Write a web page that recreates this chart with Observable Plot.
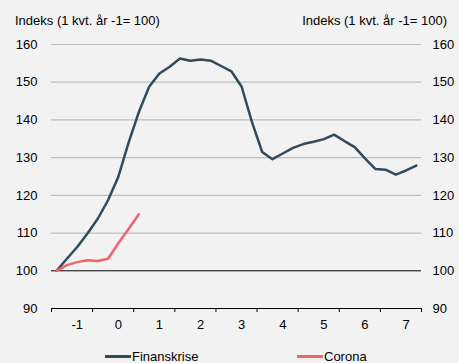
<!DOCTYPE html>
<html>
<head>
<meta charset="utf-8">
<script src="https://cdn.jsdelivr.net/npm/d3@7"></script>
<script src="https://cdn.jsdelivr.net/npm/@observablehq/plot@0.6"></script>
<style>
  html, body { margin: 0; padding: 0; background: #f2f2f2; }
  #wrap { position: relative; width: 459px; height: 363px; overflow: hidden; background: #f2f2f2;
          font-family: "Liberation Sans", Arial, sans-serif; font-size: 13px; color: #000; }
  .hdr { position: absolute; top: 13px; white-space: nowrap; }
  .leg { position: absolute; top: 349px; white-space: nowrap; }
  .sw { position: absolute; height: 3px; width: 26px; top: 355px; }
  #chart { position: absolute; left: 0; top: 0; }
</style>
</head>
<body>
<div id="wrap">
  <div class="hdr" style="left:15px">Indeks (1 kvt. år -1= 100)</div>
  <div class="hdr" style="right:12px">Indeks (1 kvt. år -1= 100)</div>
  <div id="chart"></div>
  <div class="sw" style="left:105px;background:#2f4b5c"></div>
  <div class="leg" style="left:132px">Finanskrise</div>
  <div class="sw" style="left:297px;background:#f0646a"></div>
  <div class="leg" style="left:324px">Corona</div>
</div>
<script>
// Quarterly index values (1. kvt. år -1 = 100)
const finanskrise = [100, 103.2, 106.3, 109.9, 113.8, 118.7, 124.9, 134.0, 142.1, 148.8,
  152.3, 154.1, 156.3, 155.7, 156.0, 155.7, 154.3, 152.9, 148.8, 139.5,
  131.5, 129.6, 131.1, 132.6, 133.6, 134.2, 134.9, 136.1, 134.4, 132.8,
  129.8, 127.0, 126.8, 125.5, 126.6, 127.9];
const corona = [100, 101.5, 102.3, 102.8, 102.6, 103.2, 107.3, 111.1, 115.0];
const xLabels = ["-1", "0", "1", "2", "3", "4", "5", "6", "7"];
const yTicks = [90, 100, 110, 120, 130, 140, 150, 160];

const finData = finanskrise.map((v, i) => ({q: i, v}));
const corData = corona.map((v, i) => ({q: i, v}));
const yearBounds = d3.range(xLabels.length + 1).map(k => k * 4 - 0.5);
const labelPos = xLabels.map((_, k) => k * 4 + 2);

const chart = Plot.plot({
  width: 459,
  height: 340,
  marginTop: 44,
  marginBottom: 32,
  marginLeft: 51,
  marginRight: 38,
  style: {background: "transparent", fontFamily: "'Liberation Sans', Arial, sans-serif", fontSize: "13px", color: "#000"},
  x: {domain: [-0.5, finanskrise.length - 0.5]},
  y: {domain: [90, 160]},
  marks: [
    Plot.gridY(yTicks.filter(d => d > 100), {stroke: "#bdbdbd", strokeOpacity: 1, strokeWidth: 1.2}),
    Plot.ruleY([100], {stroke: "#000", strokeWidth: 1}),
    Plot.ruleY([90], {stroke: "#000", strokeWidth: 1}),
    Plot.axisY(yTicks, {anchor: "left", tickSize: 0, tickPadding: 14, label: null}),
    Plot.axisY(yTicks, {anchor: "right", tickSize: 0, tickPadding: 11, label: null}),
    Plot.axisX(yearBounds, {anchor: "bottom", tickSize: 4, tickFormat: () => "", label: null}),
    Plot.axisX(labelPos, {anchor: "bottom", tickSize: 0, tickPadding: 11, tickFormat: d => xLabels[(d - 2) / 4], label: null}),
    Plot.line(finData, {x: "q", y: "v", stroke: "#2f4b5c", strokeWidth: 2.5}),
    Plot.line(corData, {x: "q", y: "v", stroke: "#f0646a", strokeWidth: 2.5})
  ]
});
document.getElementById("chart").appendChild(chart);
</script>
</body>
</html>
